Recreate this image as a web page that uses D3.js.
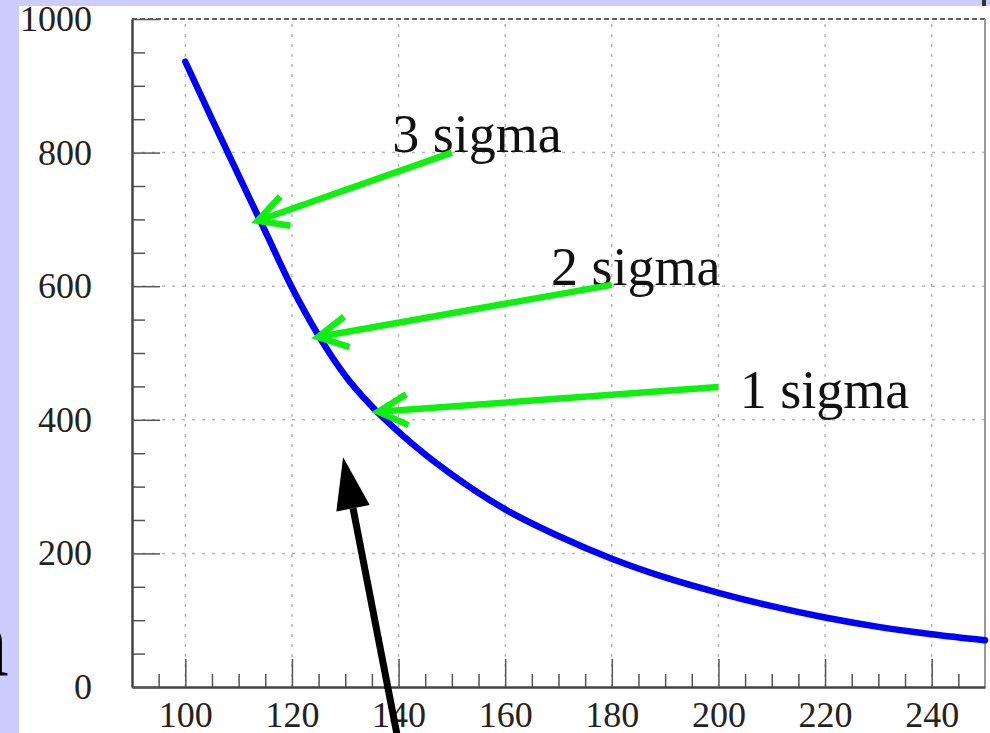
<!DOCTYPE html>
<html>
<head>
<meta charset="utf-8">
<script src="https://cdn.jsdelivr.net/npm/d3@7"></script>
<style>
	body { margin: 0; background: #ccccff; overflow: hidden; }
	svg { display: block; }
	.tick text { font-family: "Liberation Serif", "DejaVu Serif", serif; }
</style>
</head>
<body>
<svg id="chart" width="990" height="733"></svg>
<script>
'use strict'

// curve
const massValues = [100, 105, 110, 115, 120, 125, 130, 135, 140, 145, 150, 160, 170, 180, 190, 200, 210, 220, 230, 240, 250]
const limitValues = [936, 850, 766, 682, 598, 526, 466, 420, 382, 348, 318, 266, 226, 192, 164, 141, 121, 104, 90, 79, 70]

const xMajorTicks = [100, 120, 140, 160, 180, 200, 220, 240]
const yMajorTicks = [0, 200, 400, 600, 800, 1000]

// annotation arrows (data coords)
const sigmaLabels = ["3 sigma", "2 sigma", "1 sigma"]
const sigmaLabelAt = [[138.8, 801], [168.6, 602], [204, 418]]
const sigmaTails = [[150, 800], [180, 602], [200, 449]]
const sigmaTips = [[113.6, 698], [124.9, 524], [136.2, 412]]

const blackTail = [139.8, -75]
const blackTip = [129.6, 344]

const svg = d3.select("#chart")

// white slide area + small mark top right
svg.append("rect").attr("x", 19).attr("y", 6).attr("width", 971).attr("height", 727).attr("fill", "#ffffff")
svg.append("rect").attr("x", 982).attr("y", 0).attr("width", 4).attr("height", 6).attr("fill", "#333")

// cut-off letter on the left edge
svg.append("text")
	.attr("x", 9).attr("y", 675)
	.attr("text-anchor", "end")
	.style("font-family", "Liberation Serif, serif")
	.style("font-size", "100px")
	.attr("fill", "#000")
	.text("n")

let x = d3.scaleLinear().domain([90, 250]).range([132, 985])
let y = d3.scaleLinear().domain([0, 1000]).range([687, 19])

// grid
let grid = svg.append("g").attr("stroke", "#b8b8b8").attr("stroke-width", 1.5).attr("stroke-dasharray", "3,7")
grid.selectAll(".gx").data(xMajorTicks).enter().append("line")
	.attr("x1", d => x(d)).attr("x2", d => x(d))
	.attr("y1", y(0)).attr("y2", y(1000))
grid.selectAll(".gy").data(yMajorTicks.filter(d => d > 0 && d < 1000)).enter().append("line")
	.attr("x1", x(90)).attr("x2", x(250))
	.attr("y1", d => y(d)).attr("y2", d => y(d))

// frame top / right
svg.append("line").attr("x1", x(90)).attr("x2", x(250)).attr("y1", y(1000)).attr("y2", y(1000))
	.attr("stroke", "#666").attr("stroke-width", 2).attr("stroke-dasharray", "5,3")
svg.append("line").attr("x1", x(250)).attr("x2", x(250)).attr("y1", y(0)).attr("y2", y(1000))
	.attr("stroke", "#999").attr("stroke-width", 2)

// minor ticks
let xMinor = d3.range(95, 250, 5).filter(d => d % 20 != 0)
let yMinor = d3.range(50, 1000, 50).filter(d => d % 200 != 0)

svg.append("g").attr("transform", "translate(0," + y(0) + ")")
	.call(d3.axisBottom(x).tickValues(xMinor).tickSize(-13).tickFormat(""))
	.call(g => g.select(".domain").remove())
svg.append("g").attr("transform", "translate(" + x(90) + ",0)")
	.call(d3.axisLeft(y).tickValues(yMinor).tickSize(-13).tickFormat(""))
	.call(g => g.select(".domain").remove())

// major axes
let xAxis = svg.append("g").attr("transform", "translate(0," + y(0) + ")")
	.call(d3.axisBottom(x).tickValues(xMajorTicks).tickSize(-28).tickPadding(14).tickSizeOuter(0).tickFormat(d3.format("d")))
let yAxis = svg.append("g").attr("transform", "translate(" + x(90) + ",0)")
	.call(d3.axisLeft(y).tickValues(yMajorTicks).tickSize(-28).tickPadding(40).tickSizeOuter(0).tickFormat(d3.format("d")))

svg.selectAll(".tick line").attr("stroke", "#555").attr("stroke-width", 1.5)
svg.selectAll(".domain").attr("stroke", "#444").attr("stroke-width", 2.5)
svg.selectAll(".tick text").style("font-size", "36px").attr("fill", "#222")

// the limit curve
let line = d3.line()
	.x((d, i) => x(massValues[i]))
	.y(d => y(d))
	.curve(d3.curveMonotoneX)

svg.append("path")
	.datum(limitValues)
	.attr("d", line)
	.attr("fill", "none")
	.attr("stroke", "#0000ff")
	.attr("stroke-width", 6.5)
	.attr("stroke-linecap", "round")

// green sigma arrows
let green = "#10f010"
let ann = svg.append("g")
for(var i = 0; i < sigmaLabels.length; i++){
	let tx = x(sigmaTips[i][0]), ty = y(sigmaTips[i][1])
	let sx = x(sigmaTails[i][0]), sy = y(sigmaTails[i][1])
	let ang = Math.atan2(sy - ty, sx - tx)
	let wing = 33, spread = 28 * Math.PI / 180

	ann.append("text")
		.attr("x", x(sigmaLabelAt[i][0])).attr("y", y(sigmaLabelAt[i][1]))
		.style("font-family", "Liberation Serif, serif")
		.style("font-size", "54px")
		.attr("fill", "#111")
		.text(sigmaLabels[i])

	let p = d3.path()
	p.moveTo(sx, sy); p.lineTo(tx, ty)
	p.moveTo(tx + wing * Math.cos(ang - spread), ty + wing * Math.sin(ang - spread))
	p.lineTo(tx, ty)
	p.lineTo(tx + wing * Math.cos(ang + spread), ty + wing * Math.sin(ang + spread))
	ann.append("path").attr("d", p.toString())
		.attr("fill", "none").attr("stroke", green).attr("stroke-width", 6.5)
		.attr("stroke-linecap", "butt").attr("stroke-linejoin", "miter")
}

// black arrow from below
let bx = x(blackTip[0]), by = y(blackTip[1])
let ex = x(blackTail[0]), ey = y(blackTail[1])
let bang = Math.atan2(ey - by, ex - bx)
let headLen = 52, headHalf = 17
let baseX = bx + headLen * Math.cos(bang), baseY = by + headLen * Math.sin(bang)
svg.append("line").attr("x1", ex).attr("y1", ey).attr("x2", baseX).attr("y2", baseY)
	.attr("stroke", "#000").attr("stroke-width", 7)
svg.append("polygon")
	.attr("points", [
		[bx, by],
		[baseX - headHalf * Math.sin(bang), baseY + headHalf * Math.cos(bang)],
		[baseX + headHalf * Math.sin(bang), baseY - headHalf * Math.cos(bang)]
	].map(d => d.join(",")).join(" "))
	.attr("fill", "#000")
</script>
</body>
</html>
